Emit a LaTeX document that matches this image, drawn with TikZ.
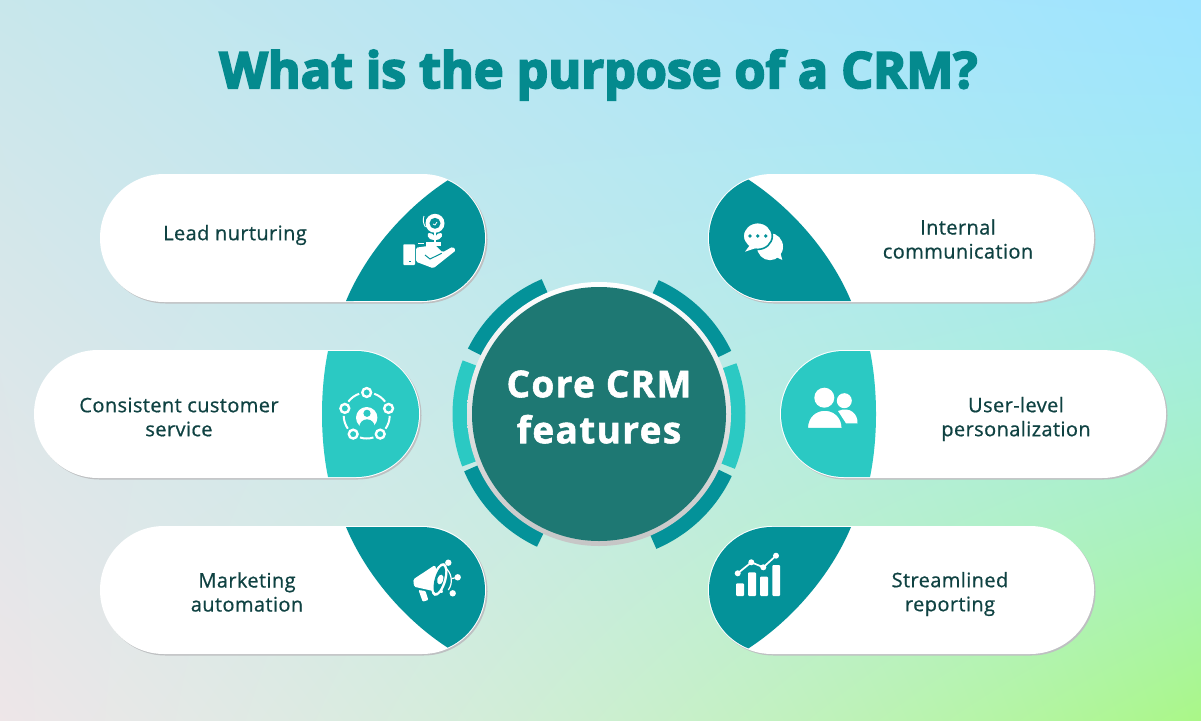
\documentclass[tikz,border=0pt]{standalone}
\usepackage{fontspec}
\usepackage{tikz}
\usetikzlibrary{positioning,shadows}
\setmainfont{Open Sans}
\newfontfamily\titlefont[FakeBold=4,LetterSpace=0.2]{Open Sans Bold}
\newfontfamily\corefont[FakeBold=1.5,LetterSpace=3.6]{Open Sans Bold}
\newfontfamily\pillfont[FakeBold=0.7,LetterSpace=2]{Open Sans}

\definecolor{tealcap}{RGB}{4,146,153}
\definecolor{aquacap}{RGB}{43,201,195}
\definecolor{corefill}{RGB}{30,120,115}
\definecolor{titleteal}{RGB}{4,138,142}
\definecolor{pilltext}{RGB}{15,66,66}
\definecolor{pillrim}{RGB}{190,192,194}

% four corner wash, the green only close to the lower right
\pgfdeclarefunctionalshading{bgwash}{\pgfpointorigin}{\pgfpoint{100bp}{100bp}}{}{
  25 sub 50 div exch 25 sub 50 div exch
  2 copy mul 0.101 mul 2 index -0.267 mul add 1 index -0.149 mul add 0.933 add
  2 index 2 index mul -0.079 mul 3 index 0.067 mul add 2 index 0.004 mul add 0.902 add
  3 index 3 index mul 0.078 mul 3 index 0.012 mul add 0.910 add
  4 index dup mul 4 index 1 exch sub dup mul mul 0.38 mul sub
  5 -2 roll pop pop
}

\begin{document}
\begin{tikzpicture}[
  x=1pt, y=-1pt,
  pill/.style={rounded corners=64pt, fill=white, minimum width=386pt, minimum height=128pt, inner sep=0pt,
    copy shadow={shadow xshift=1.5pt, shadow yshift=-1.5pt, fill=pillrim, draw=none, opacity=1}},
  pilllabel/.style={align=center, text=pilltext, inner sep=0pt, font=\pillfont\fontsize{20}{24}\selectfont},
  tealshape/.style={fill=tealcap},
  aquashape/.style={fill=aquacap},
  ringseg/.style={line width=15pt},
  icon/.style={fill=white, draw=none},
  iconline/.style={draw=white, line width=1.7pt, fill=none}
]

\useasboundingbox (0,0) rectangle (1201,720);
\path[shading=bgwash] (0,0) rectangle (1201,720);

\node[anchor=base, text=titleteal, inner sep=0pt, font=\titlefont\fontsize{50}{60}\selectfont] (title) at (598.5,88) {What is the purpose of a CRM?};

% pills
\node[pill] (leadpill) at (293,238) {};
\node[pill] (servicepill) at (227,414) {};
\node[pill] (marketpill) at (293,590) {};
\node[pill] (internalpill) at (901,238) {};
\node[pill] (userpill) at (973,414) {};
\node[pill] (reportpill) at (901,590) {};

% coloured ends
\path[tealshape] (346,301) .. controls (366,253) and (405,208) .. (447.6,180.4) arc[start angle=-66, end angle=90, radius=63] -- cycle;
\path[aquashape] (328,351) .. controls (320,390) and (320,438) .. (328,477) -- (356,477) arc[start angle=90, end angle=-90, radius=63] -- cycle;
\path[tealshape] (346,527) .. controls (366,575) and (405,620) .. (447.6,647.6) arc[start angle=66, end angle=-90, radius=63] -- cycle;
\path[tealshape] (851,301) .. controls (831,253) and (792,208) .. (748.4,179.6) arc[start angle=-112, end angle=-270, radius=63] -- cycle;
\path[aquashape] (870,351) .. controls (878,390) and (878,438) .. (870,477) -- (844,477) arc[start angle=90, end angle=270, radius=63] -- cycle;
\path[tealshape] (851,527) .. controls (831,575) and (792,620) .. (748.4,648.4) arc[start angle=112, end angle=270, radius=63] -- cycle;

% labels
\node[pilllabel] (leadtext) at (235,235) {Lead nurturing};
\node[pilllabel] (servicetext) at (179,417) {Consistent customer\\service};
\node[pilllabel] (markettext) at (247,592) {Marketing\\automation};
\node[pilllabel] (internaltext) at (958,239) {Internal\\communication};
\node[pilllabel] (usertext) at (1016,419) {User-level\\personalization};
\node[pilllabel] (reporttext) at (950,594) {Streamlined\\reporting};

% centre
\foreach \from/\to/\col in {-113/-153.5/tealcap, -66/-25.5/tealcap, -20.3/22/aquacap, -158.5/-201/aquacap, -203/-245/tealcap, 25/67/tealcap}
  \draw[ringseg, draw=\col] (599,414) ++(\from:139) arc[start angle=\from, end angle=\to, radius=139];
\node[circle, minimum size=264pt, inner sep=0pt, top color=white, bottom color=gray!45] (corering) at (599,414) {};
\node[circle, minimum size=254pt, inner sep=0pt, fill=corefill] (core) at (599,414) {};
\node[align=center, text=white, inner sep=0pt, font=\corefont\fontsize{37}{46}\selectfont] (coretext) at (599,407) {Core CRM\\features};

% plant in hand
\fill[icon, rounded corners=.8pt] (403.3,244.3) rectangle (415,265);
\fill[tealcap] (408.5,260.5) rectangle (410.5,261.5);
\fill[icon, rounded corners=1.5pt] (416,247.7) -- (435,245) -- (440,250) -- (442.7,252.3) -- (452.7,246.7) -- (456,250.3) -- (433.3,268.3) -- (416,261.7) -- cycle;
\draw[tealcap, line width=1pt] (425,255) -- (430,259) -- (441.7,253.3);
\fill[icon] (435,223.3) circle (9.5);
\fill[tealcap] (435,223.3) circle (5.5);
\draw[white, line width=.8pt] (433,224) -- (435,225) -- (437,222);
\draw[iconline] (435,232) -- (435,245);
\fill[icon] (435,240) .. controls (426,240) and (427,233) .. (429,233) .. controls (433,233) and (435,236) .. (435,240)
  .. controls (443,240) and (443,233) .. (441,233) .. controls (437,233) and (435,236) .. (435,240);
\draw[white, line width=.9pt] (424,216) arc[start angle=-160, end angle=-215, radius=12];
\draw[white, line width=.9pt] (418,243) -- (424,243);
\fill[icon] (426,242) rectangle (441,246);

% people network
\foreach \ang in {-90,-18,54,126,198} {
  \draw[iconline, line width=2pt] (366.7,415.5) ++(\ang+19:23) arc[start angle=\ang+19, end angle=\ang+53, radius=23];
  \draw[white, line width=2.4pt, fill=aquacap] (366.7,415.5) ++(\ang:23) circle (4.4);
}
\fill[icon] (366.7,417.7) circle (10.7);
\fill[aquacap] (367,413.3) circle (3.6);
\fill[aquacap] (367,427) circle (7.7);

% megaphone
\fill[icon, rounded corners=1.5pt] (435,565) -- (443.3,593.3) -- (414,586.7) -- (413.3,579.3) -- cycle;
\fill[icon, rounded corners=1pt] (418.5,590) -- (425.5,591) -- (428.3,600) -- (422.7,601.7) -- cycle;
\fill[icon, rotate around={-16:(439.3,579.5)}] (439.3,579.5) ellipse (7 and 17);
\fill[tealcap, rotate around={-16:(439.3,579.5)}] (439.3,579.5) ellipse (4.5 and 14);
\fill[icon, rotate around={-16:(440.3,579.5)}] (440.3,579.5) ellipse (3 and 5);
\fill[icon] (448.3,562.7) circle (3.2);
\fill[icon] (457.7,577.3) circle (3.2);
\fill[icon] (452.7,593.3) circle (3.2);
\draw[iconline, line width=1.2pt] (445,567.3) .. controls (451,572) and (454,582) .. (448.3,590);
\draw[iconline, line width=1.2pt] (452,578.5) -- (457.7,577.3);

% chat bubbles
\fill[icon] (770,246.7) ellipse (13 and 13.5);
\fill[icon] (772,255) -- (782.3,260) -- (779,248) -- cycle;
\draw[tealcap, fill=white, line width=1.6pt] (757.7,236) ellipse (14.6 and 13.4);
\fill[icon] (750,245) -- (745,251.7) -- (756,248) -- cycle;
\fill[tealcap] (750,236) circle (1.9);
\fill[tealcap] (757.7,236) circle (1.9);
\fill[tealcap] (765.7,236) circle (1.9);

% two people
\fill[icon] (844.3,400.7) circle (7.5);
\fill[icon] (838,411) .. controls (850,406) and (858,414) .. (857.5,423.3) -- (846,423.3) -- cycle;
\fill[icon] (824.3,397.7) circle (10);
\draw[aquacap, fill=white, line width=1.3pt] (807.3,428.5) .. controls (807.3,404) and (842.3,404) .. (842.3,428.5) -- cycle;

% bar chart
\foreach \xa/\xb/\ytop in {736/744/583.3, 748/756/572.3, 760/768/576.7, 772.3/780/565}
  \fill[icon, rounded corners=1pt] (\xa,\ytop) rectangle (\xb,596);
\draw[iconline] (737.7,573.3) -- (751.3,562.3) -- (763.3,567.3) -- (776,555.7);
\foreach \xa/\ytop in {737.7/573.3, 751.3/562.3, 763.3/567.3, 776/555.7}
  \fill[icon] (\xa,\ytop) circle (3);

\end{tikzpicture}
\end{document}
